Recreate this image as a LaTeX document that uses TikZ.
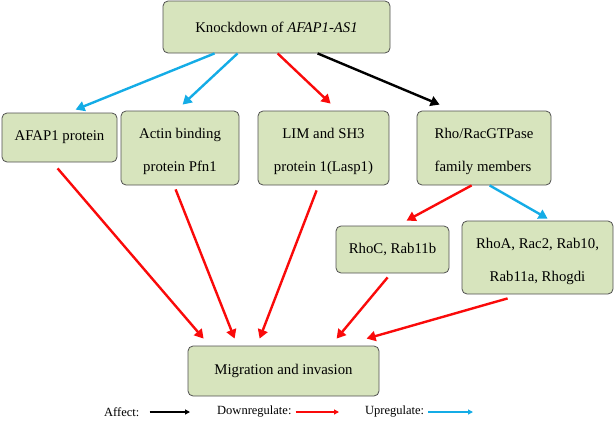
\documentclass[tikz,border=0pt]{standalone}
\usepackage{fontspec}
\setmainfont{Liberation Serif}
\usetikzlibrary{arrows.meta}
\definecolor{boxfill}{RGB}{215,228,189}
\definecolor{boxline}{RGB}{80,80,80}
\definecolor{upblue}{RGB}{20,172,230}
\definecolor{downred}{RGB}{250,10,10}
\newcommand{\firststrut}{\rule{0pt}{18pt}}
\tikzset{
  box/.style={draw=boxline, fill=boxfill, rounded corners=5pt, line width=0.8pt,
    inner sep=0pt, font=\rmfamily\fontsize{14.8}{33}\selectfont},
  arr/.style={line width=2.4pt, -{Triangle[length=9pt,width=10pt]}},
  up/.style={arr, draw=upblue},
  down/.style={arr, draw=downred},
  aff/.style={arr, draw=black},
  legarr/.style={line width=1.2pt, -{Triangle[length=5pt,width=5pt]}},
  legtext/.style={anchor=west, inner sep=0pt, font=\rmfamily\fontsize{12.5}{15}\selectfont}
}
\begin{document}
\begin{tikzpicture}[x=1pt,y=-1pt]
\useasboundingbox (0,0) rectangle (614,429);
% boxes
\node[box, minimum width=227pt, minimum height=52pt] (top) at (276.5,27) {Knockdown of \textit{AFAP1-AS1}};
\node[box, minimum width=115pt, minimum height=49pt] (afap) at (59.5,137.5) {AFAP1 protein};
\node[box, minimum width=118pt, minimum height=74pt, align=center] (actin) at (180,148) {\firststrut Actin binding\\protein Pfn1};
\node[box, minimum width=131pt, minimum height=74pt, align=center] (lim) at (323.5,148) {\firststrut LIM and SH3\\protein 1(Lasp1)};
\node[box, minimum width=134pt, minimum height=74pt, align=left] (rho) at (484,148) {\firststrut Rho/RacGTPase\\family members};
\node[box, minimum width=113pt, minimum height=47pt] (rhoc) at (392.5,249.5) {RhoC, Rab11b};
\node[box, minimum width=151pt, minimum height=73pt, align=center] (rhoa) at (537.5,257.5) {\firststrut RhoA, Rac2, Rab10,\\Rab11a, Rhogdi};
\node[box, minimum width=191pt, minimum height=50pt] (mig) at (283.5,371) {Migration and invasion};
% arrows from top
\draw[up]   ([xshift=52pt]top.south west)  -- ([xshift=74pt,yshift=3pt]afap.north west);
\draw[up]   ([xshift=75pt]top.south west)  -- ([xshift=62pt,yshift=6pt]actin.north west);
\draw[down] ([xshift=115pt]top.south west) -- ([xshift=73pt,yshift=7pt]lim.north west);
\draw[aff]  ([xshift=155pt]top.south west) -- ([xshift=23pt,yshift=6pt]rho.north west);
% arrows to migration
\draw[down] ([xshift=56pt,yshift=-6pt]afap.south west)  -- ([xshift=16pt,yshift=7pt]mig.north west);
\draw[down] ([xshift=55pt,yshift=-4pt]actin.south west) -- ([xshift=47pt,yshift=7pt]mig.north west);
\draw[down] ([xshift=59pt,yshift=-5pt]lim.south west)   -- ([xshift=72pt,yshift=7pt]mig.north west);
% rho branches
\draw[down] ([xshift=55pt]rho.south west) -- ([xshift=71pt,yshift=5pt]rhoc.north west);
\draw[up]   ([xshift=73pt]rho.south west) -- ([xshift=86pt,yshift=2pt]rhoa.north west);
\draw[down] ([xshift=52pt,yshift=-4pt]rhoc.south west) -- ([xshift=149pt,yshift=7pt]mig.north west);
\draw[down] ([xshift=46pt,yshift=-4pt]rhoa.south west) -- ([xshift=179pt,yshift=7pt]mig.north west);
% legend
\node[legtext] (laff) at (104,412) {Affect:};
\node[legtext] (ldown) at (217,412) {Downregulate:};
\node[legtext] (lup) at (365,412) {Upregulate:};
\coordinate (eaff) at (190,412);
\coordinate (edown) at (339,412);
\coordinate (eup) at (473,412);
\draw[legarr, draw=black] ([xshift=10pt]laff.east) -- (eaff);
\draw[legarr, draw=downred] ([xshift=4pt]ldown.east) -- (edown);
\draw[legarr, draw=upblue] ([xshift=4pt]lup.east) -- (eup);
\end{tikzpicture}
\end{document}
